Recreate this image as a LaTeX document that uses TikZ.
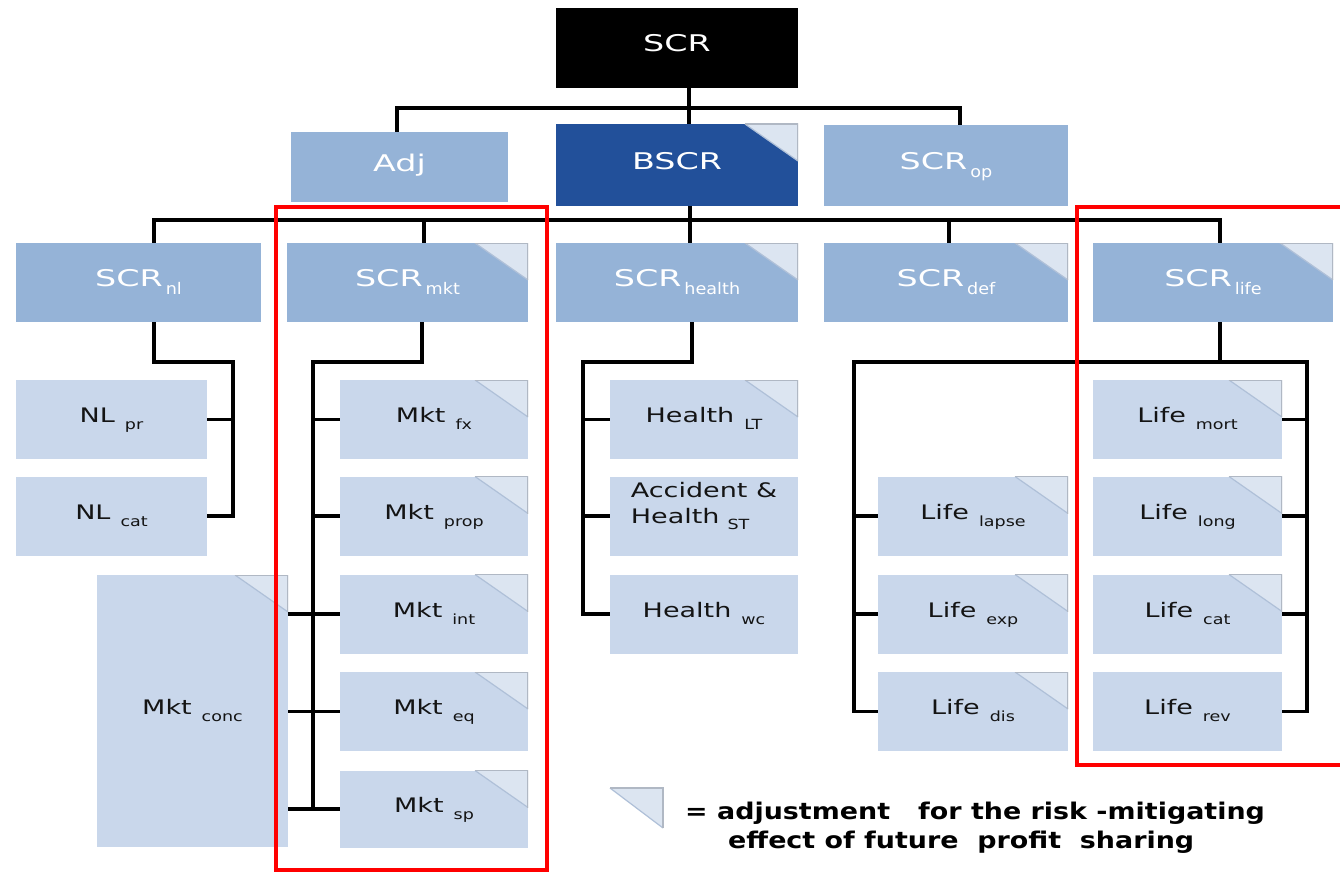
\documentclass[tikz,border=0pt]{standalone}
\usepackage{fontspec}
\setmainfont{DejaVu Sans}

\definecolor{midblue}{HTML}{95B3D7}
\definecolor{lightblue}{HTML}{C9D7EB}
\definecolor{darkblue}{HTML}{22509A}
\definecolor{foldc}{HTML}{DCE5F1}
\definecolor{foldedge}{HTML}{B0B8C4}
\definecolor{foldline}{HTML}{AFC0D8}

% box labels: main word plus a lowered subscript
\newcommand{\lowlbl}[2]{\scalebox{1.35}[1]{\fontsize{20}{24}\selectfont #1}\hspace{10pt}\raisebox{-7pt}{\scalebox{1.25}[1]{\fontsize{14}{16}\selectfont #2}}}
\newcommand{\toplbl}[2]{\scalebox{1.45}[1]{\fontsize{23}{27}\selectfont #1}\hspace{3pt}\raisebox{-8pt}{\scalebox{1.1}[1]{\fontsize{16}{18}\selectfont #2}}}
\newcommand{\topword}[1]{\scalebox{1.45}[1]{\fontsize{23}{27}\selectfont #1}}

\begin{document}
\begin{tikzpicture}[x=1pt,y=-1pt,
  size/.style 2 args={minimum width=#1, minimum height=#2},
  tbox/.style={rectangle, inner sep=0pt, text=white, text height=17pt, text depth=9pt},
  mbox/.style={tbox, fill=midblue},
  lbox/.style={rectangle, inner sep=0pt, fill=lightblue, text=black!92, text height=15pt, text depth=9pt},
  folded/.style={path picture={
    \fill[foldc] ([xshift=-53pt]path picture bounding box.north east)
      -- (path picture bounding box.north east)
      -- ([yshift=-37pt]path picture bounding box.north east) -- cycle;
    \draw[foldline, line width=1.2pt] ([xshift=-53pt]path picture bounding box.north east)
      -- ([yshift=-37pt]path picture bounding box.north east);
    \draw[foldedge, line width=1.6pt] ([xshift=-53pt]path picture bounding box.north east)
      -- (path picture bounding box.north east)
      -- ([yshift=-37pt]path picture bounding box.north east);
  }},
  wire/.style={line width=3.4pt, black},
  redframe/.style={line width=4.5pt, draw=red},
  legendtext/.style={inner sep=0pt, text=black, font=\fontsize{23}{27}\selectfont\bfseries}
]
\fill[white] (0,0) rectangle (1340,872);
\useasboundingbox (0,0) rectangle (1340,872);

% top level
\node[tbox, fill=black, size={242}{80}] (scr) at (677,48) {\topword{SCR}};
\node[mbox, size={217}{70}] (adj) at (399.5,167) {\topword{Adj}};
\node[tbox, fill=darkblue, folded, size={242}{82}] (bscr) at (677,165) {\topword{BSCR}};
\node[mbox, size={244}{81}] (scrop) at (946,165.5) {\toplbl{SCR}{op}};

% modules
\node[mbox, size={245}{79}] (scrnl) at (138.5,282.5) {\toplbl{SCR}{nl}};
\node[mbox, folded, size={241}{79}] (scrmkt) at (407.5,282.5) {\toplbl{SCR}{mkt}};
\node[mbox, folded, size={242}{79}] (scrhealth) at (677,282.5) {\toplbl{SCR}{health}};
\node[mbox, folded, size={244}{79}] (scrdef) at (946,282.5) {\toplbl{SCR}{def}};
\node[mbox, folded, size={240}{79}] (scrlife) at (1213,282.5) {\toplbl{SCR}{life}};

% non-life
\node[lbox, size={191}{79}] (nlpr) at (111.5,419.5) {\lowlbl{NL}{pr}};
\node[lbox, size={191}{79}] (nlcat) at (111.5,516) {\lowlbl{NL}{cat}};

% market
\node[lbox, folded, size={191}{272}] (mktconc) at (192.5,711) {\lowlbl{Mkt}{conc}};
\node[lbox, folded, size={188}{79}] (mktfx) at (434,419.5) {\lowlbl{Mkt}{fx}};
\node[lbox, folded, size={188}{79}] (mktprop) at (434,516) {\lowlbl{Mkt}{prop}};
\node[lbox, folded, size={188}{79}] (mktint) at (434,614) {\lowlbl{Mkt}{int}};
\node[lbox, folded, size={188}{79}] (mkteq) at (434,711.5) {\lowlbl{Mkt}{eq}};
\node[lbox, folded, size={188}{77}] (mktsp) at (434,809) {\lowlbl{Mkt}{sp}};

% health
\node[lbox, folded, size={188}{79}] (hlt) at (704,419.5) {\lowlbl{Health}{LT}};
\node[lbox, size={188}{79}, align=left, text depth=0pt, font=\fontsize{20}{26}\selectfont] (hst) at (704,516)
  {\scalebox{1.35}[1]{Accident \&}\\\scalebox{1.35}[1]{Health}\hspace{8pt}\raisebox{-6pt}{\scalebox{1.25}[1]{\fontsize{14}{16}\selectfont ST}}};
\node[lbox, size={188}{79}] (hwc) at (704,614) {\lowlbl{Health}{wc}};

% life
\node[lbox, folded, size={190}{79}] (llapse) at (973,516) {\lowlbl{Life}{lapse}};
\node[lbox, folded, size={190}{79}] (lexp) at (973,614) {\lowlbl{Life}{exp}};
\node[lbox, folded, size={190}{79}] (ldis) at (973,711.5) {\lowlbl{Life}{dis}};
\node[lbox, folded, size={189}{79}] (lmort) at (1187.5,419.5) {\lowlbl{Life}{mort}};
\node[lbox, folded, size={189}{79}] (llong) at (1187.5,516) {\lowlbl{Life}{long}};
\node[lbox, folded, size={189}{79}] (lcat) at (1187.5,614) {\lowlbl{Life}{cat}};
\node[lbox, size={189}{79}] (lrev) at (1187.5,711.5) {\lowlbl{Life}{rev}};

% junction points
\coordinate (topj) at (689,108);
\coordinate (busj) at (690,220);
\coordinate (nlj) at (233,362);
\coordinate (mkj) at (313,362);
\coordinate (hej) at (583,362);
\coordinate (dfj) at (854,362);
\coordinate (lfj) at (1307,362);

% top tree
\draw[wire] (scr.south -| topj) -- (bscr.north -| topj);
\draw[wire] (adj.north -| 397,0) |- (topj) -| (scrop.north -| 960,0);

% module bus
\draw[wire] (bscr.south -| busj) -- (scrhealth.north -| busj);
\draw[wire] (scrnl.north -| 154,0) |- (busj) -| (scrlife.north -| 1220,0);
\draw[wire] (scrmkt.north -| 424,0) -- (busj -| 424,0);
\draw[wire] (scrdef.north -| 949,0) -- (busj -| 949,0);

% non-life bracket
\draw[wire] (scrnl.south -| 154,0) |- (nlj) |- (nlcat.east);
\draw[wire] (nlpr.east) -- (nlpr.east -| nlj);

% market bracket
\draw[wire] (scrmkt.south -| 422,0) |- (mkj) |- (mktsp.west);
\foreach \n in {mktfx,mktprop,mktint,mkteq}
  \draw[wire] (\n.west) -- (\n.west -| mkj);
\foreach \n in {mktint,mkteq,mktsp}
  \draw[wire] (mktconc.east |- \n.west) -- (\n.west -| mkj);

% health bracket
\draw[wire] (scrhealth.south -| 692,0) |- (hej) |- (hwc.west);
\foreach \n in {hlt,hst}
  \draw[wire] (\n.west) -- (\n.west -| hej);

% life bracket
\draw[wire] (ldis.west) -| (dfj) -- (lfj) |- (lrev.east);
\draw[wire] (scrlife.south -| 1220,0) -- (dfj -| 1220,0);
\foreach \n in {llapse,lexp}
  \draw[wire] (\n.west) -- (\n.west -| dfj);
\foreach \n in {lmort,llong,lcat}
  \draw[wire] (\n.east) -- (\n.east -| lfj);

% highlight frames
\draw[redframe] (276,207) rectangle (547,870);
\draw[redframe] (1345,207) -- (1077,207) -- (1077,765) -- (1345,765);

% legend
\fill[foldc] (610,788) -- (663,788) -- (663,828) -- cycle;
\draw[foldline, line width=1.2pt] (610,788) -- (663,828);
\draw[foldedge, line width=1.8pt] (610,788) -- (663,788) -- (663,828);
\node[legendtext, anchor=base west] (leg1) at (685,819)
  {\scalebox{1.17}[1]{= adjustment\ \ \ for the risk -mitigating}};
\node[legendtext, anchor=base west] (leg2) at (728,848)
  {\scalebox{1.17}[1]{effect of future\ \ profit\ \ sharing}};
\end{tikzpicture}
\end{document}
